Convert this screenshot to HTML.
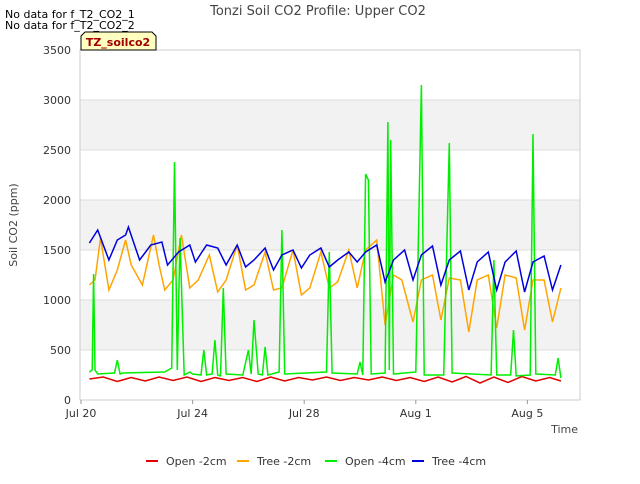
<!DOCTYPE html>
<html><head><meta charset="utf-8"><style>
body{margin:0;background:#fff;font-family:"DejaVu Sans","Liberation Sans",sans-serif}
svg text{font-family:"DejaVu Sans","Liberation Sans",sans-serif}
</style></head><body>
<svg id="c" width="640" height="480" xmlns="http://www.w3.org/2000/svg">
<rect width="640" height="480" fill="#fff"/>
<g id="bands"></g>
<g id="grid"></g>
<g id="series"></g>
<rect x="80" y="50" width="500" height="350" fill="none" stroke="#ccc"/>
<g id="axes" font-size="11" fill="#333"></g>
<text x="318" y="15" text-anchor="middle" font-size="13" fill="#444">Tonzi Soil CO2 Profile: Upper CO2</text>
<text x="5" y="18" font-size="11" fill="#000">No data for f_T2_CO2_1</text>
<text x="5" y="29" font-size="11" fill="#000">No data for f_T2_CO2_2</text>
<g>
<path d="M81,50 L81,36 L85,32 L152,32 L156,36 L156,50 Z" fill="#ffffc0" stroke="#000"/>
<text x="118" y="46" text-anchor="middle" font-size="11" font-weight="bold" fill="#a00000">TZ_soilco2</text>
</g>
<text x="17" y="225" text-anchor="middle" font-size="11" fill="#444" transform="rotate(-90 17 225)">Soil CO2 (ppm)</text>
<text x="578" y="433" text-anchor="end" font-size="11" fill="#444">Time</text>
<g id="legend" font-size="11" fill="#333"></g>
</svg>
<script>
const yTicks=[0,500,1000,1500,2000,2500,3000,3500];
const xTickDays=[0,4,8,12,16];
const xTickLabels=["Jul 20","Jul 24","Jul 28","Aug 1","Aug 5"];
const seriesNames=["Open -2cm","Tree -2cm","Open -4cm","Tree -4cm"];
const seriesColors=["#e00000","#ffa500","#00ee00","#0000dd"];
const open2Days=[0.3,0.8,1.3,1.8,2.3,2.8,3.3,3.8,4.3,4.8,5.3,5.8,6.3,6.8,7.3,7.8,8.3,8.8,9.3,9.8,10.3,10.8,11.3,11.8,12.3,12.8,13.3,13.8,14.3,14.8,15.3,15.8,16.3,16.8,17.2];
const open2Vals=[210,230,185,225,190,230,195,230,185,225,195,225,185,230,190,225,200,230,195,225,200,230,195,225,185,230,180,235,170,230,175,235,190,225,190];
const tree2Days=[0.3,0.5,0.7,1.0,1.3,1.6,1.8,2.2,2.6,2.8,3.0,3.3,3.6,3.9,4.2,4.6,4.9,5.2,5.6,5.9,6.2,6.6,6.9,7.2,7.6,7.9,8.2,8.6,8.9,9.2,9.6,9.9,10.2,10.6,10.9,11.2,11.5,11.9,12.2,12.6,12.9,13.2,13.6,13.9,14.2,14.6,14.9,15.2,15.6,15.9,16.2,16.6,16.9,17.2];
const tree2Vals=[1150,1200,1620,1100,1300,1600,1350,1150,1650,1350,1100,1200,1650,1120,1200,1450,1080,1200,1550,1100,1150,1480,1100,1120,1500,1050,1120,1480,1120,1180,1500,1120,1500,1600,750,1250,1200,780,1200,1250,800,1220,1200,680,1200,1250,720,1250,1220,700,1200,1200,780,1120];
const open4Days=[0.3,0.4,0.45,0.5,0.6,1.2,1.3,1.4,1.5,3.0,3.25,3.35,3.45,3.55,3.7,3.9,4.0,4.3,4.4,4.5,4.7,4.8,4.9,5.0,5.1,5.2,5.8,6.0,6.1,6.2,6.35,6.5,6.6,6.7,7.1,7.2,7.3,8.8,8.9,9.0,9.9,10.0,10.1,10.2,10.3,10.4,10.9,11.0,11.05,11.1,11.2,12.0,12.2,12.3,13.0,13.2,13.3,14.7,14.8,14.9,15.4,15.5,15.6,16.1,16.2,16.3,17.0,17.1,17.2];
const open4Vals=[280,300,1260,300,260,270,400,260,270,280,320,2380,300,1620,250,280,260,250,500,250,260,600,250,240,1120,260,250,500,260,800,260,250,530,250,280,1700,260,280,1480,270,260,380,250,2260,2200,260,270,2780,300,2600,260,280,3150,250,250,2570,270,250,1400,250,250,700,240,250,2660,260,250,420,220];
const tree4Days=[0.3,0.6,1.0,1.3,1.6,1.7,2.1,2.5,2.9,3.1,3.5,3.9,4.1,4.5,4.9,5.2,5.6,5.9,6.2,6.6,6.9,7.2,7.6,7.9,8.2,8.6,8.9,9.2,9.6,9.9,10.2,10.6,10.9,11.2,11.6,11.9,12.2,12.6,12.9,13.2,13.6,13.9,14.2,14.6,14.9,15.2,15.6,15.9,16.2,16.6,16.9,17.2];
const tree4Vals=[1570,1700,1400,1600,1650,1730,1400,1550,1580,1350,1480,1550,1380,1550,1520,1350,1550,1330,1400,1520,1300,1450,1500,1320,1450,1520,1330,1400,1480,1380,1480,1550,1180,1400,1500,1200,1450,1540,1150,1400,1490,1100,1380,1480,1100,1380,1490,1080,1380,1440,1100,1350];
const NS="http://www.w3.org/2000/svg";
const X0=81,PX_DAY=27.9;
function xs(d){return X0+d*PX_DAY;}
function ys(v){return 400-v*0.1;}
function mk(tag,attrs,parent){const e=document.createElementNS(NS,tag);for(const k in attrs)e.setAttribute(k,attrs[k]);parent.appendChild(e);return e;}
const bands=document.getElementById('bands'),grid=document.getElementById('grid'),axes=document.getElementById('axes'),ser=document.getElementById('series'),leg=document.getElementById('legend');
for(let i=0;i<yTicks.length-1;i++){
  if(i%2===1){const r=mk('rect',{x:80,y:ys(yTicks[i+1]),width:500,height:ys(yTicks[i])-ys(yTicks[i+1]),fill:'#f2f2f2'},bands);
  
  }
}
yTicks.forEach(v=>{
  const l=mk('line',{x1:80,x2:580,y1:ys(v),y2:ys(v),stroke:'#ddd'},grid);
  
  
  const t=mk('text',{x:71,y:ys(v)+4,'text-anchor':'end'},axes);t.textContent=v;
  
  
});
xTickDays.forEach((d,i)=>{
  const t=mk('text',{x:xs(d),y:417,'text-anchor':'middle'},axes);t.textContent=xTickLabels[i];
  
  
  mk('line',{x1:xs(d),x2:xs(d),y1:400,y2:404,stroke:'#999'},axes);
});
const all=[[open2Days,open2Vals],[tree2Days,tree2Vals],[open4Days,open4Vals],[tree4Days,tree4Vals]];
const names=['open-2cm-line','tree-2cm-line','open-4cm-line','tree-4cm-line'];
[1,0,2,3].forEach(i=>{
  const [d,v]=all[i];
  const p=mk('polyline',{points:d.map((dd,j)=>xs(dd).toFixed(1)+','+ys(v[j]).toFixed(1)).join(' '),fill:'none',stroke:seriesColors[i],'stroke-width':1.5},ser);
  
  
});
const lx=[146,237,325,412];
seriesNames.forEach((n,i)=>{
  const g=mk('g',{},leg);
  
  
  mk('line',{x1:lx[i],x2:lx[i]+12,y1:461,y2:461,stroke:seriesColors[i],'stroke-width':2},g);
  const t=mk('text',{x:lx[i]+20,y:465},g);t.textContent=n;
});
</script>
</body></html>
